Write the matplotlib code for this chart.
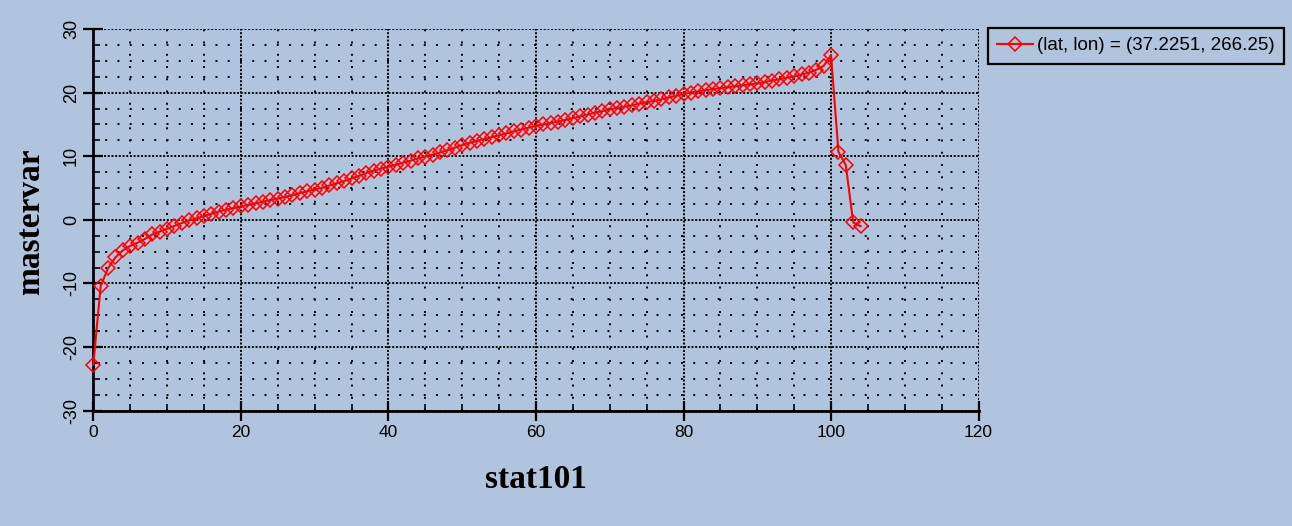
#!/usr/bin/env python3
"""Recreate the stat101 vs mastervar line chart."""

import matplotlib

matplotlib.use("Agg")
import matplotlib.pyplot as plt
from matplotlib.ticker import MultipleLocator

BG = "#b0c4de"
RED = "#ff0000"

stat_index = list(range(105))
mastervar = [
    -22.8, -10.4, -7.6, -5.9, -4.8, -4.1, -3.6, -3.0, -2.3, -1.85,
    -1.4, -0.95, -0.5, -0.1, 0.25, 0.6, 0.95, 1.3, 1.6, 1.85,
    2.1, 2.35, 2.6, 2.85, 3.1, 3.35, 3.6, 3.9, 4.2, 4.5,
    4.75, 5.05, 5.4, 5.75, 6.1, 6.5, 6.9, 7.35, 7.75, 8.05,
    8.35, 8.65, 9.0, 9.3, 9.65, 9.95, 10.25, 10.6, 10.95, 11.35,
    11.75, 12.1, 12.4, 12.7, 13.0, 13.3, 13.6, 13.9, 14.2, 14.5,
    14.75, 15.0, 15.25, 15.45, 15.7, 16.0, 16.25, 16.55, 16.85, 17.1,
    17.35, 17.6, 17.8, 18.0, 18.25, 18.5, 18.7, 18.95, 19.25, 19.5,
    19.8, 20.0, 20.2, 20.4, 20.55, 20.7, 20.85, 21.0, 21.15, 21.3,
    21.45, 21.65, 21.9, 22.1, 22.35, 22.55, 22.85, 23.15, 23.6, 24.2,
    25.9, 10.7, 8.6, -0.4, -1.0,
]
series_label = "(lat, lon) = (37.2251, 266.25)"

plt.rcParams["axes.unicode_minus"] = False

tick_font = ["Liberation Sans Narrow", "Liberation Sans", "DejaVu Sans"]
label_font = ["Liberation Serif", "DejaVu Serif"]

fig = plt.figure(figsize=(12.92, 5.26), dpi=100, facecolor=BG)
ax = fig.add_axes([93.3 / 1292, 1 - 410.7 / 526, 885.3 / 1292, 381.7 / 526])
ax.set_facecolor(BG)

(line,) = ax.plot(
    stat_index,
    mastervar,
    color=RED,
    linewidth=1.5,
    marker="D",
    markersize=7,
    markerfacecolor="none",
    markeredgecolor=RED,
    markeredgewidth=1.1,
    label=series_label,
    zorder=3,
    clip_on=False,
)

ax.set_xlim(0, 120)
ax.set_ylim(-30, 30)
ax.xaxis.set_major_locator(MultipleLocator(20))
ax.xaxis.set_minor_locator(MultipleLocator(5))
ax.yaxis.set_major_locator(MultipleLocator(10))
ax.yaxis.set_minor_locator(MultipleLocator(2.5))

ax.grid(which="major", color="black", linestyle=(0, (1, 0.9)), linewidth=1.4)
ax.grid(which="minor", color="black", linestyle=(0, (1, 5.3)), linewidth=1.4)
ax.set_axisbelow(True)

for side in ("top", "right"):
    ax.spines[side].set_visible(False)
for side in ("left", "bottom"):
    ax.spines[side].set_linewidth(2.0)
    ax.spines[side].set_color("black")

ax.tick_params(which="major", direction="inout", length=15, width=1.6, color="black")
ax.tick_params(which="minor", direction="in", length=5, width=1.2, color="black")
ax.tick_params(axis="x", which="major", pad=3)
ax.tick_params(axis="y", which="major", pad=2)

for lab in ax.get_xticklabels():
    lab.set_family(tick_font)
    lab.set_fontsize(12.5)
for lab in ax.get_yticklabels():
    lab.set_family(tick_font)
    lab.set_fontsize(13)
    lab.set_rotation(90)
    lab.set_va("center")

ax.set_xlabel("stat101", family=label_font, fontsize=24, fontweight="bold", va="center")
ax.xaxis.set_label_coords(0.5, -0.18)
ax.set_ylabel("mastervar", family=label_font, fontsize=24, fontweight="bold", va="center")
ax.yaxis.set_label_coords(-0.071, 0.494)

leg = fig.legend(
    handles=[line],
    loc="upper left",
    bbox_to_anchor=(988 / 1292, 1 - 28 / 526),
    frameon=True,
    fancybox=False,
    facecolor=BG,
    edgecolor="black",
    framealpha=1,
    handlelength=1.9,
    handletextpad=0.2,
    borderpad=0.5,
    borderaxespad=0,
    prop={"family": tick_font, "size": 13.5},
)
leg.get_frame().set_linewidth(1.6)

fig.savefig("out.png", dpi=100, facecolor=BG)
